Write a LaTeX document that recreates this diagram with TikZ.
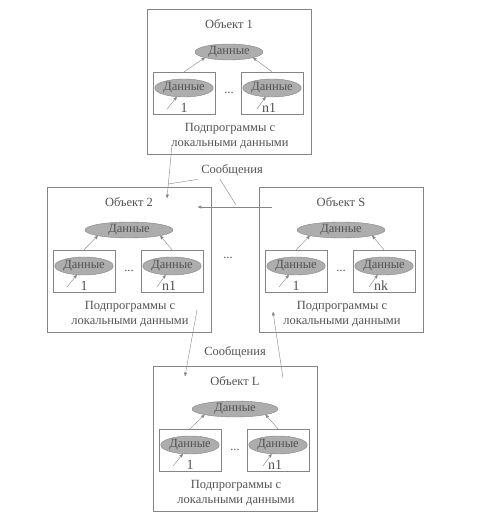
\documentclass[tikz,border=0pt]{standalone}
\usepackage{fontspec}
\setmainfont{Liberation Serif}
\usetikzlibrary{arrows,positioning,shapes}
\definecolor{colorline}{rgb}{0.52, 0.52, 0.52}
\definecolor{colortext}{rgb}{0.32, 0.32, 0.32}
\definecolor{colordata}{rgb}{0.68, 0.68, 0.68}
\tikzstyle{every node}=[text=colortext, font=\fontsize{12.5}{15}\selectfont]
\tikzstyle{objbox}=[rectangle, draw=colorline, minimum width=164pt, minimum height=145pt, inner sep=0pt, anchor=north west]
\tikzstyle{subbox}=[rectangle, draw=colorline, minimum width=62pt, minimum height=42pt, inner sep=0pt]
\tikzstyle{dataell}=[ellipse, draw=colorline, fill=colordata, minimum width=88pt, minimum height=16pt, inner sep=0pt]
\tikzstyle{locdata}=[dataell, minimum width=57pt, minimum height=18pt]
\tikzstyle{subtext}=[align=center]
\tikzstyle{idx}=[font=\fontsize{14}{15}\selectfont]
% #1 name, #2 upper left corner, #3 title, #4 last index, #5 width of the data ellipse
\newcommand{\objblock}[5]{
	\begin{scope}[shift={#2}]
		\node[objbox] at (0, 0) (#1) {};
		\node at (82, 15) (#1t) {#3};
		\node[dataell, minimum width=#5] at (82, 43) (#1d) {Данные};
		\node[subbox] at (37, 84) (#1a) {};
		\node[subbox] at (125, 84) (#1b) {};
		\node[locdata] at (37, 79) (#1ad) {Данные};
		\node[locdata] at (125, 79) (#1bd) {Данные};
		\node[idx] at (37, 99) (#1ai) {1};
		\node[idx] at (122, 99) (#1bi) {#4};
		\node at (82, 84) (#1dots) {...};
		\coordinate (#1ap) at (20, 100);
		\coordinate (#1bp) at (110, 100);
		\path (#1ap) edge (#1ad) (#1bp) edge (#1bd);
		\path (#1a.north) edge (#1d.south west) (#1b.north) edge (#1d.south east);
		\node[subtext] at (83, 127) (#1s) {Подпрограммы с\\локальными данными};
	\end{scope}}

\begin{document}
\begin{tikzpicture}[x=1pt, y=-1pt, >=stealth', every edge/.style={draw=colorline, ->}]
	\useasboundingbox (0, 0) rectangle (486, 516);

	\objblock{o1}{(147, 9)}{Объект 1}{n1}{68pt}
	\objblock{o2}{(47, 187)}{Объект 2}{n1}{88pt}
	\objblock{os}{(259, 187)}{Объект S}{nk}{88pt}
	\objblock{ol}{(153, 366)}{Объект L}{n1}{86pt}

	\node at (228, 258) (between) {...};

	\coordinate (m1s) at (172, 145);
	\coordinate (m1e) at (167, 198);
	\coordinate (m2s) at (272, 207);
	\coordinate (m2e) at (198, 207);
	\coordinate (m3s) at (197, 310);
	\coordinate (m3e) at (185, 376);
	\coordinate (m4s) at (283, 378);
	\coordinate (m4e) at (273, 312);
	\path (m1s) edge (m1e) (m2s) edge (m2e) (m3s) edge (m3e) (m4s) edge (m4e);

	\node at (232, 170) (msga) {Сообщения};
	\node at (235, 352) (msgb) {Сообщения};
	\coordinate (lk1) at (168.5, 184);
	\coordinate (lk2) at (236, 205);
	\draw[colorline] (msga.south west) -- (lk1);
	\draw[colorline] ([xshift=-12pt]msga.south) -- (lk2);

\end{tikzpicture}
\end{document}
